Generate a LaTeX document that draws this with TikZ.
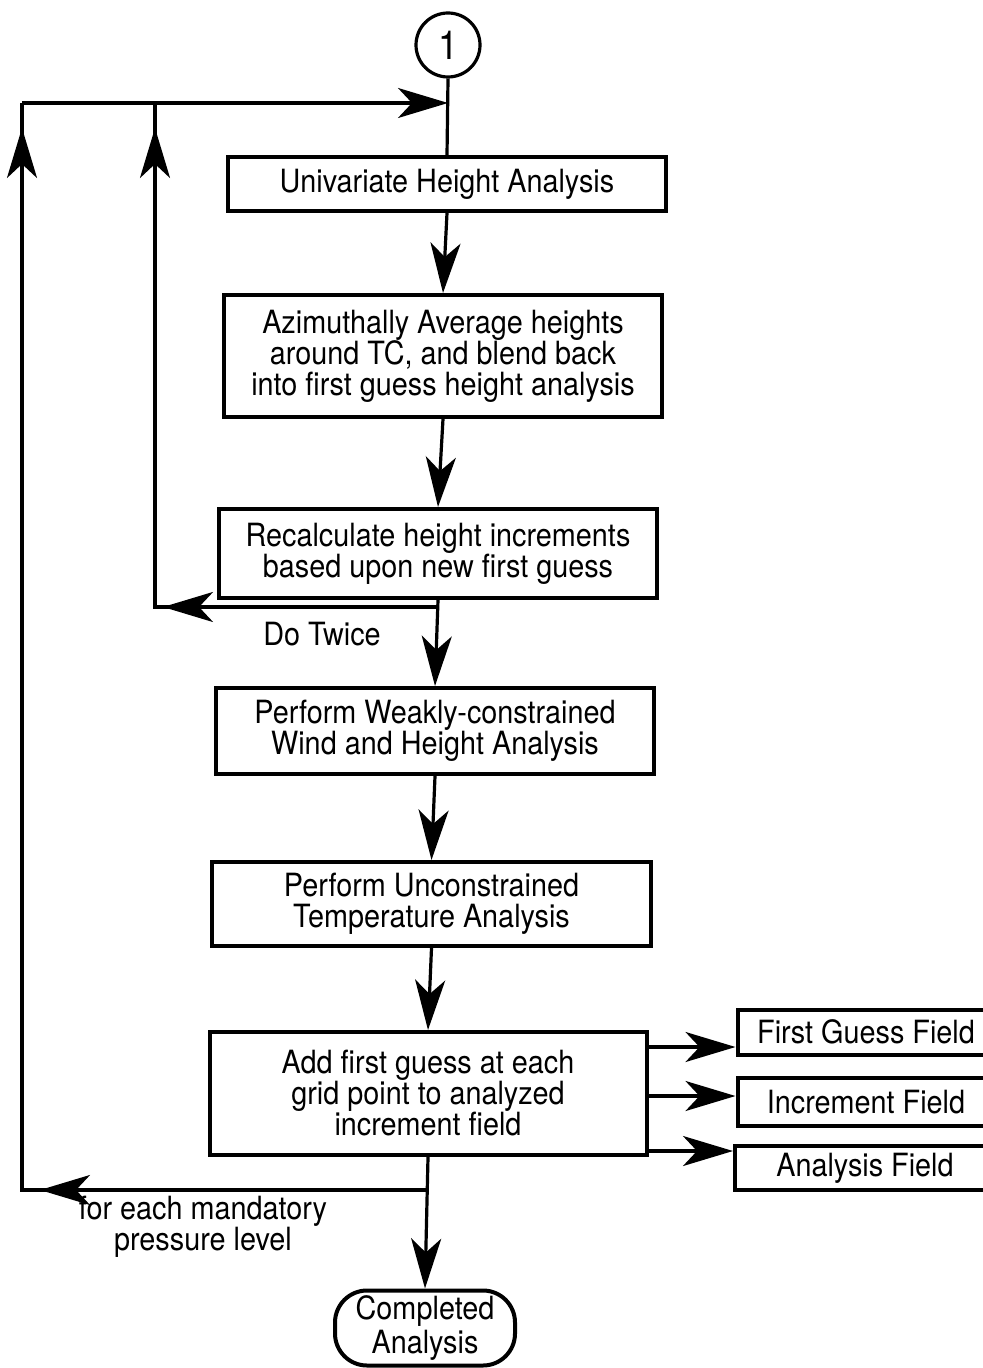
\documentclass[tikz,border=0pt]{standalone}
\usepackage{fontspec}
\setmainfont[FakeStretch=0.9]{TeX Gyre Heros}
\usetikzlibrary{arrows.meta,calc}
\begin{document}
\begin{tikzpicture}[x=0.5pt,y=-0.5pt,
  every node/.style={font=\fontsize{16}{15.5}\selectfont, align=center},
  box/.style={draw, line width=2pt, inner sep=0pt},
  ln/.style={line width=1.6pt},
  arr/.style={ln, -{Stealth[length=25pt,width=15pt,inset=7pt]}}]
\useasboundingbox (0,0) rectangle (983,1368);
\fill[white] (0,0) rectangle (983,1368);
% nodes
\node[draw, circle, line width=1.6pt, minimum size=32pt, inner sep=0pt, font=\fontsize{20}{20}\selectfont] (c1) at (448,45) {1};
\node[box, minimum width=219pt, minimum height=27pt] (b1) at (447,184) {Univariate Height Analysis};
\node[box, minimum width=219pt, minimum height=61pt] (b2) at (443,356) {Azimuthally Average heights\\around TC, and blend back\\into first guess height analysis};
\node[box, minimum width=219pt, minimum height=44.5pt] (b3) at (438,553.5) {Recalculate height increments\\based upon new first guess};
\node[box, minimum width=219pt, minimum height=43pt] (b4) at (435,731) {Perform Weakly-constrained\\Wind and Height Analysis};
\node[box, minimum width=219.5pt, minimum height=42pt] (b5) at (431.5,904) {Perform Unconstrained\\Temperature Analysis};
\node[box, minimum width=218.5pt, minimum height=61.5pt] (b6) at (428,1093.5) {Add first guess at each\\grid point to analyzed\\increment field};
\node[box, minimum width=128.5pt, minimum height=22.5pt] (f1) at (866,1032) {First Guess Field};
\node[box, minimum width=128.5pt, minimum height=24pt] (f2) at (866,1102) {Increment Field};
\node[box, minimum width=130pt, minimum height=22pt] (f3) at (865,1168) {Analysis Field};
\node[draw, line width=2pt, rounded corners=16pt, minimum width=90pt, minimum height=37.5pt, inner sep=0pt, font=\fontsize{16}{17}\selectfont] (oval) at (425,1328) {Completed\\Analysis};
\node (dtw) at (322,634) {Do Twice};
\node (fe) at (203,1227) {for each mandatory\\pressure level};
% coordinates
\coordinate (tl) at (22,103);
\coordinate (tm) at (155,103);
\coordinate (dt) at (155,607);
\coordinate (bl) at (22,1190);
\coordinate (r1) at (660,1047);
\coordinate (r2) at (660,1096);
\coordinate (r3) at (660,1151);
% main chain
\draw[ln] (c1.south) -- (b1.north);
\draw[arr] (b1.south) -- (b2.north);
\draw[arr] (b2.south) -- (b3.north);
\draw[arr] (b3.south) -- (b4.north);
\draw[arr] (b4.south) -- (b5.north);
\draw[arr] (b5.south) -- (b6.north);
\draw[arr] (b6.south) -- (oval.north);
% outputs
\draw[arr] (b6.east |- r1) -- (f1.west |- r1);
\draw[arr] (b6.east |- r2) -- (f2.west |- r2);
\draw[arr] (b6.east |- r3) -- (f3.west |- r3);
% do twice loop
\draw[ln] (b3.south |- dt) -- (dt) -- (tm);
\draw[arr] (b3.south |- dt) -- ($(dt)+(8,0)$);
\draw[arr] (dt) -- ($(tm)+(0,25)$);
% pressure level loop
\draw[ln] (b6.south |- bl) -- (bl) -- (tl);
\draw[arr] (b6.south |- bl) -- ($(bl)+(18,0)$);
\draw[arr] (bl) -- ($(tl)+(0,25)$);
\draw[arr] (tl) -- (c1.south |- tl);
\end{tikzpicture}
\end{document}
